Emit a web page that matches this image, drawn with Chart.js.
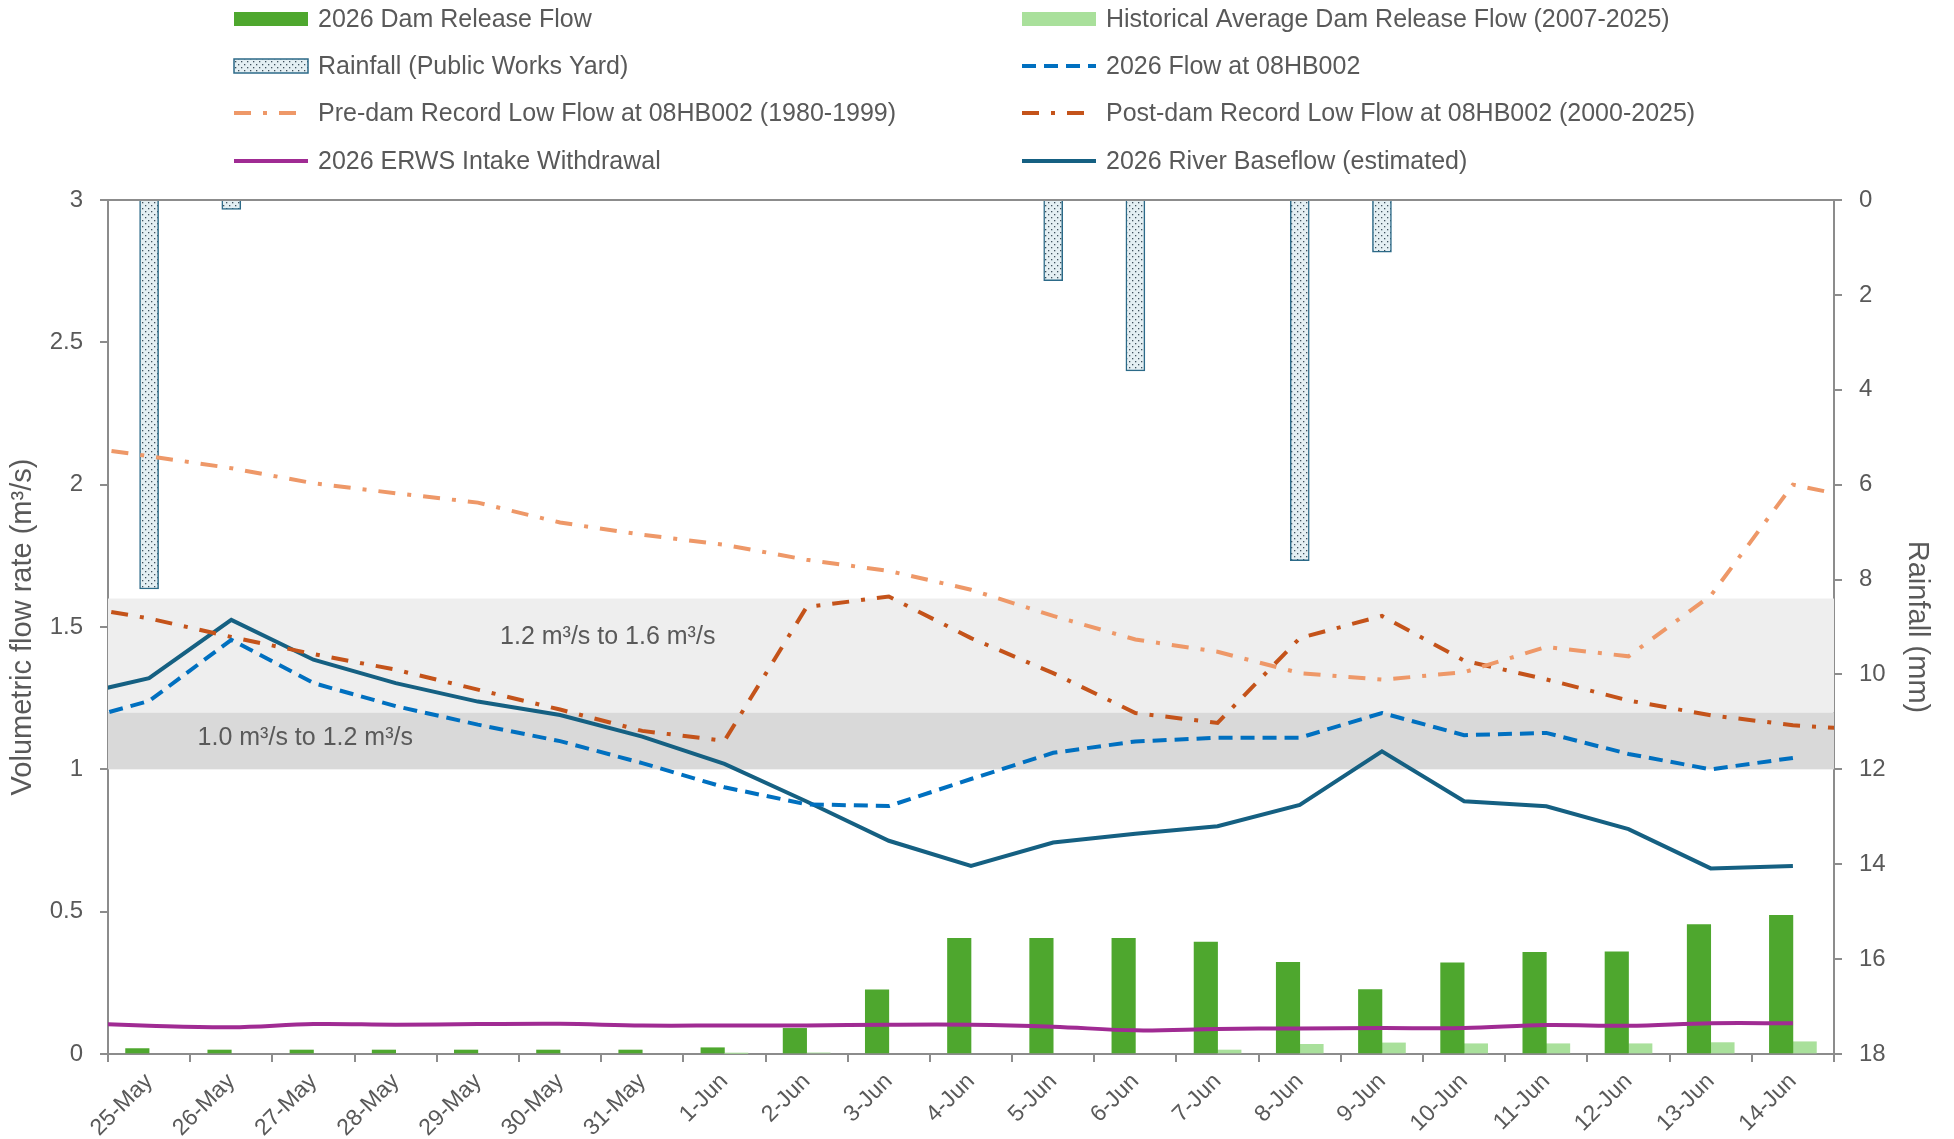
<!DOCTYPE html>
<html lang="en">
<head>
<meta charset="UTF-8">
<title>Dam Release, Rainfall and River Flow</title>
<script src="https://cdn.jsdelivr.net/npm/chart.js@4.4.2/dist/chart.umd.min.js"></script>
<style>
  body { margin: 0; background: #fff; }
  #wrap { width: 1954px; height: 1139px; }
</style>
</head>
<body>
<div id="wrap"><canvas id="flowChart" width="1954" height="1139"></canvas></div>

<script>
// categories (bars)
const days = ['25-May', '26-May', '27-May', '28-May', '29-May', '30-May', '31-May', '1-Jun', '2-Jun', '3-Jun',
              '4-Jun', '5-Jun', '6-Jun', '7-Jun', '8-Jun', '9-Jun', '10-Jun', '11-Jun', '12-Jun', '13-Jun', '14-Jun'];

// bar values (m3/s) and rainfall (mm)
const damRelease = [0.019, 0.014, 0.014, 0.014, 0.014, 0.014, 0.014, 0.022, 0.09, 0.225,
                    0.406, 0.406, 0.406, 0.393, 0.322, 0.226, 0.32, 0.357, 0.359, 0.455, 0.487];
const histAverage = [null, null, null, null, null, null, null, 0.002, 0.004, null,
                     null, null, null, 0.014, 0.034, 0.039, 0.036, 0.036, 0.036, 0.04, 0.043];
const rainfall = [8.2, 0.2, null, null, null, null, null, null, null, null,
                  null, 1.7, 3.6, null, 7.6, 1.1, null, null, null, null, null];

// line values: 24-May .. 15-Jun (first and last fall just outside the plot edges)
const lineDays = ['24-May', ...days, '15-Jun'];
const flow08HB002 = [1.16, 1.24, 1.455, 1.303, 1.222, 1.157, 1.099, 1.022, 0.937, 0.877, 0.871,
                     0.966, 1.058, 1.098, 1.111, 1.111, 1.198, 1.12, 1.128, 1.054, 1.0, 1.04, null];
const baseflow = [1.254, 1.32, 1.525, 1.385, 1.303, 1.238, 1.191, 1.115, 1.019, 0.887, 0.749,
                  0.661, 0.743, 0.774, 0.80, 0.875, 1.063, 0.888, 0.87, 0.79, 0.652, 0.66, null];
const preDamLow = [2.14, 2.10, 2.058, 2.005, 1.97, 1.937, 1.867, 1.824, 1.789, 1.736, 1.697,
                   1.631, 1.539, 1.456, 1.413, 1.338, 1.315, 1.341, 1.43, 1.397, 1.61, 2.0, 1.94];
const postDamLow = [1.58, 1.53, 1.465, 1.405, 1.35, 1.28, 1.21, 1.135, 1.10, 1.57, 1.607,
                    1.461, 1.338, 1.198, 1.163, 1.461, 1.539, 1.382, 1.316, 1.242, 1.19, 1.155, 1.137];
const erwsIntake = [0.11, 0.0995, 0.094, 0.105, 0.103, 0.105, 0.106, 0.10, 0.10, 0.10, 0.103,
                    0.103, 0.096, 0.083, 0.088, 0.09, 0.091, 0.091, 0.102, 0.099, 0.108, 0.108, null];

// target flow bands
const bandFrom = [1.0, 1.2];
const bandTo = [1.2, 1.6];
const bandText = ['1.0 m\u00b3/s to 1.2 m\u00b3/s', '1.2 m\u00b3/s to 1.6 m\u00b3/s'];

// tick labels
const flowTicks = [0, 0.5, 1, 1.5, 2, 2.5, 3];
const rainTicks = [0, 2, 4, 6, 8, 10, 12, 14, 16, 18];

const FONT = "'Liberation Sans', Arial, sans-serif";
const GREY = '#595959';
const AXIS = '#8C8C8C';
const BAR_SHIFT = 0.143;   // half a release bar, in category units (side-by-side pair)

Chart.defaults.font.family = FONT;
Chart.defaults.color = GREY;

const canvas = document.getElementById('flowChart');
const ctx = canvas.getContext('2d');

// dotted fill for the rainfall bars
function dotPattern() {
    const c = document.createElement('canvas');
    c.width = 6; c.height = 6;
    const g = c.getContext('2d');
    g.fillStyle = '#E4EFF3';
    g.fillRect(0, 0, 6, 6);
    g.fillStyle = '#3E4F5C';
    g.fillRect(1, 1, 1.3, 1.3);
    g.fillRect(4, 4, 1.3, 1.3);
    return ctx.createPattern(c, 'repeat');
}

// arrays -> points on a linear x axis (index 0 = 25-May)
function toPoints(values, first) {
    const pts = [];
    values.forEach((v, i) => { if (v !== null) pts.push({x: i + first, y: v}); });
    return pts;
}

function lineSet(label, values, color, dash, tension) {
    return {
        type: 'line', label: label, data: toPoints(values, -1),
        xAxisID: 'xl', yAxisID: 'y',
        borderColor: color, backgroundColor: color, borderWidth: 4,
        borderDash: dash, pointRadius: 0, tension: tension || 0,
        clip: 0, order: 1
    };
}

const bandPlugin = {
    id: 'bands',
    beforeDatasetsDraw(chart) {
        const {ctx, chartArea: a, scales} = chart;
        const colors = ['#D9D9D9', '#EEEEEE'];
        const labelAt = [{x: 1.9, y: 1.11}, {x: 5.58, y: 1.465}];
        ctx.save();
        bandFrom.forEach((from, i) => {
            const top = scales.y.getPixelForValue(bandTo[i]);
            const bot = scales.y.getPixelForValue(from);
            ctx.fillStyle = colors[i];
            ctx.fillRect(a.left, top, a.right - a.left, bot - top);
        });
        ctx.font = '25px ' + FONT;
        ctx.fillStyle = GREY;
        ctx.textAlign = 'center';
        ctx.textBaseline = 'middle';
        bandText.forEach((t, i) => {
            ctx.fillText(t, scales.xl.getPixelForValue(labelAt[i].x), scales.y.getPixelForValue(labelAt[i].y));
        });
        ctx.restore();
    }
};

const legendPlugin = {
    id: 'gridLegend',
    afterDraw(chart) {
        const ctx = chart.ctx;
        const cols = [234, 1022];
        const rows = [19, 66, 113, 161];
        ctx.save();
        ctx.font = '25px ' + FONT;
        ctx.textBaseline = 'middle';
        chart.data.datasets.forEach((ds, i) => {
            const x = cols[i % 2], y = rows[Math.floor(i / 2)];
            if (ds.type === 'bar') {
                ctx.fillStyle = ds.backgroundColor;
                ctx.fillRect(x, y - 7, 74, 14);
                if (ds.borderWidth) {
                    ctx.strokeStyle = ds.borderColor;
                    ctx.lineWidth = ds.borderWidth;
                    ctx.strokeRect(x, y - 7, 74, 14);
                }
            } else {
                ctx.strokeStyle = ds.borderColor;
                ctx.lineWidth = ds.borderWidth;
                ctx.setLineDash(ds.borderDash || []);
                ctx.beginPath();
                ctx.moveTo(x, y);
                ctx.lineTo(x + 74, y);
                ctx.stroke();
                ctx.setLineDash([]);
            }
            ctx.fillStyle = GREY;
            ctx.fillText(ds.label, x + 84, y + 1);
        });
        ctx.restore();
    }
};

const dashDot = [17, 12, 4, 12];

new Chart(ctx, {
    type: 'bar',
    data: {
        labels: days,
        datasets: [
            {type: 'bar', label: '2026 Dam Release Flow', data: toPoints(damRelease, 0), xAxisID: 'xa', yAxisID: 'y',
             grouped: false, backgroundColor: '#4EA72E', borderWidth: 0, barThickness: 23.5, order: 3},
            {type: 'bar', label: 'Historical Average Dam Release Flow (2007-2025)', data: toPoints(histAverage, 0), xAxisID: 'xb', yAxisID: 'y',
             grouped: false, backgroundColor: '#A9E09B', borderWidth: 0, barThickness: 23.5, order: 3},
            {type: 'bar', label: 'Rainfall (Public Works Yard)', data: rainfall, xAxisID: 'xr', yAxisID: 'y2',
             grouped: false, backgroundColor: dotPattern(), borderColor: '#2C6A88', borderWidth: 1.5,
             barThickness: 19, order: 2},
            lineSet('2026 Flow at 08HB002', flow08HB002, '#0070C0', [14, 8]),
            lineSet('Pre-dam Record Low Flow at 08HB002 (1980-1999)', preDamLow, '#EE9868', dashDot),
            lineSet('Post-dam Record Low Flow at 08HB002 (2000-2025)', postDamLow, '#C4531A', dashDot),
            lineSet('2026 ERWS Intake Withdrawal', erwsIntake, '#A02B93', [], 0.35),
            lineSet('2026 River Baseflow (estimated)', baseflow, '#156082', [])
        ]
    },
    options: {
        responsive: false,
        animation: false,
        layout: {padding: {top: 200, left: 0, right: 0, bottom: 0}},
        plugins: {legend: {display: false}, tooltip: {enabled: false}},
        scales: {
            x: {
                type: 'category', position: 'bottom', offset: true,
                grid: {offset: true, drawOnChartArea: false, tickLength: 8, color: AXIS, lineWidth: 2},
                border: {display: true, color: AXIS, width: 2},
                ticks: {autoSkip: false, maxRotation: 45, minRotation: 45, padding: 6,
                        font: {size: 23}, color: GREY},
                afterFit(scale) { scale.height = 85; }
            },
            xr: {
                type: 'category', position: 'bottom', offset: true, display: false,
                ticks: {autoSkip: false}
            },
            xa: {
                type: 'linear', position: 'bottom', display: false, offset: false,
                min: -0.5 + BAR_SHIFT, max: 20.5 + BAR_SHIFT
            },
            xb: {
                type: 'linear', position: 'bottom', display: false, offset: false,
                min: -0.5 - BAR_SHIFT, max: 20.5 - BAR_SHIFT
            },
            xl: {
                type: 'linear', position: 'top', min: -0.5, max: 20.5, offset: false,
                grid: {display: false},
                border: {display: true, color: AXIS, width: 2},
                ticks: {display: false},
                afterFit(scale) { scale.height = 0; }
            },
            y: {
                type: 'linear', position: 'left', min: 0, max: 3,
                afterBuildTicks(scale) { scale.ticks = flowTicks.map(v => ({value: v})); },
                grid: {drawOnChartArea: false, tickLength: 8, color: AXIS, lineWidth: 2},
                border: {display: true, color: AXIS, width: 2},
                ticks: {padding: 17, font: {size: 24}, color: GREY, callback: v => String(v)},
                title: {display: true, text: 'Volumetric flow rate (m\u00b3/s)', font: {size: 29},
                        color: GREY, padding: {top: 6, bottom: 0}},
                afterFit(scale) { scale.width = 108; }
            },
            y2: {
                type: 'linear', position: 'right', min: 0, max: 18, reverse: true,
                afterBuildTicks(scale) { scale.ticks = rainTicks.map(v => ({value: v})); },
                grid: {drawOnChartArea: false, tickLength: 8, color: AXIS, lineWidth: 2},
                border: {display: true, color: AXIS, width: 2},
                ticks: {padding: 17, font: {size: 24}, color: GREY, callback: v => String(v)},
                title: {display: true, text: 'Rainfall (mm)', font: {size: 29},
                        color: GREY, padding: {top: 20, bottom: 0}},
                afterFit(scale) { scale.width = 120; }
            }
        }
    },
    plugins: [bandPlugin, legendPlugin]
});
</script>
</body>
</html>
